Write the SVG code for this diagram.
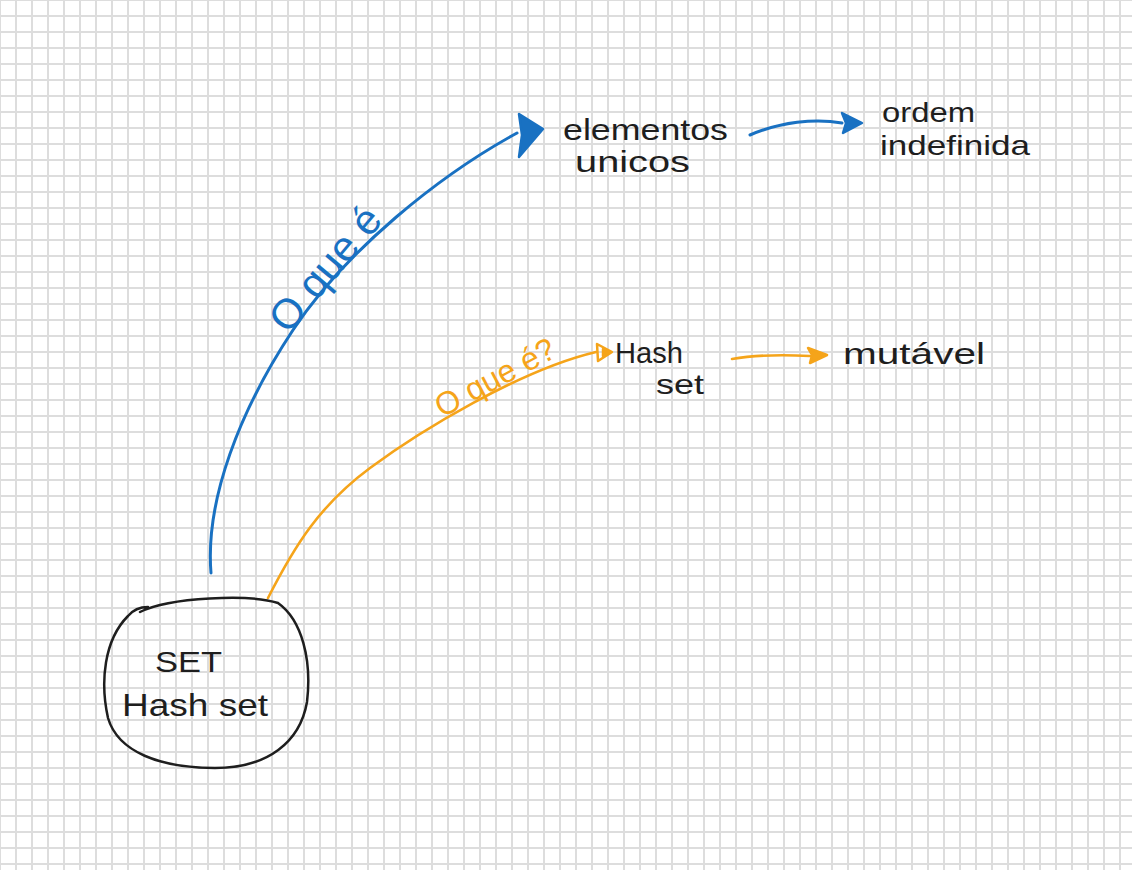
<svg xmlns="http://www.w3.org/2000/svg" width="1132" height="870" viewBox="0 0 1132 870">
<style>
.t{font-family:"Liberation Sans",Arial,sans-serif;fill:#1e1e1e;}
.blue{fill:none;stroke:#1971c2;stroke-width:3;stroke-linecap:round;stroke-linejoin:round;}
.orange{fill:none;stroke:#f5a41a;stroke-width:2.6;stroke-linecap:round;stroke-linejoin:round;}
.bh{fill:#1971c2;stroke:#1971c2;stroke-width:2.5;stroke-linejoin:round;}
.oh{fill:#f5a41a;stroke:#f5a41a;stroke-width:2.5;stroke-linejoin:round;}
.ohh{fill:none;stroke:#f5a41a;stroke-width:2.5;stroke-linejoin:round;}
.lb{font-family:"Liberation Sans",Arial,sans-serif;fill:#1971c2;}
.lo{font-family:"Liberation Sans",Arial,sans-serif;fill:#f5a41a;}
</style>
<defs>
<pattern id="grid" patternUnits="userSpaceOnUse" x="8" y="8" width="16" height="16">
<path d="M8 0 V16 M0 8 H16" stroke="#dddddd" stroke-width="2" fill="none"/>
</pattern>
</defs>
<rect width="1132" height="870" fill="#ffffff"/>
<rect width="1132" height="870" fill="url(#grid)"/>

<g id="connectors">
<path class="blue" d="M 211 573 C 205 500, 240 410, 293 330 S 440 175, 517 133"/>
<polygon class="bh" points="519,114 543,129 519,157 522,135"/>
<path class="blue" d="M 750 135 C 780 122, 815 118, 842 123"/>
<polygon class="bh" points="842,113 862,123 843,133 846,123"/>
<path class="orange" d="M 268 598 C 295 545, 320 505, 370 468 S 520 370, 596 352"/>
<polygon class="ohh" points="597,344 612,352 598,361"/>
<polygon class="oh" points="603,349 609,352 603,356"/>
<path class="orange" d="M 732 359 C 760 354, 790 355, 810 356"/>
<polygon class="oh" points="808,348 827,355 810,363 812,355"/>
<text class="lb" font-size="42" text-anchor="middle" transform="translate(336,278) rotate(-50)">O que é</text>
<text class="lo" font-size="32" text-anchor="middle" transform="translate(500,387) rotate(-28)">O que é?</text>
</g>

<g id="node-set">
<path d="M 140 612 C 170 597, 250 594, 278 603 C 302 620, 312 660, 307 702 C 300 742, 268 768, 215 768 C 160 768, 118 752, 108 718 C 100 682, 104 640, 128 616 C 133 610, 140 607, 148 607" fill="none" stroke="#1e1e1e" stroke-width="2.5" stroke-linecap="round"/>
<text class="t" x="155" y="672" font-size="30" textLength="67" lengthAdjust="spacingAndGlyphs">SET</text>
<text class="t" x="122" y="716" font-size="32" textLength="146" lengthAdjust="spacingAndGlyphs">Hash set</text>
</g>

<g id="node-elementos">
<text class="t" x="563" y="140" font-size="30" textLength="165" lengthAdjust="spacingAndGlyphs">elementos</text>
<text class="t" x="575" y="172" font-size="30" textLength="115" lengthAdjust="spacingAndGlyphs">unicos</text>
</g>

<g id="node-ordem">
<text class="t" x="882" y="122" font-size="28" textLength="93" lengthAdjust="spacingAndGlyphs">ordem</text>
<text class="t" x="880" y="155" font-size="28" textLength="150" lengthAdjust="spacingAndGlyphs">indefinida</text>
</g>

<g id="node-hashset">
<text class="t" x="615" y="363" font-size="30" textLength="68" lengthAdjust="spacingAndGlyphs">Hash</text>
<text class="t" x="656" y="394" font-size="28" textLength="48" lengthAdjust="spacingAndGlyphs">set</text>
</g>

<g id="node-mutavel">
<text class="t" x="843" y="364" font-size="30" textLength="142" lengthAdjust="spacingAndGlyphs">mutável</text>
</g>
</svg>
